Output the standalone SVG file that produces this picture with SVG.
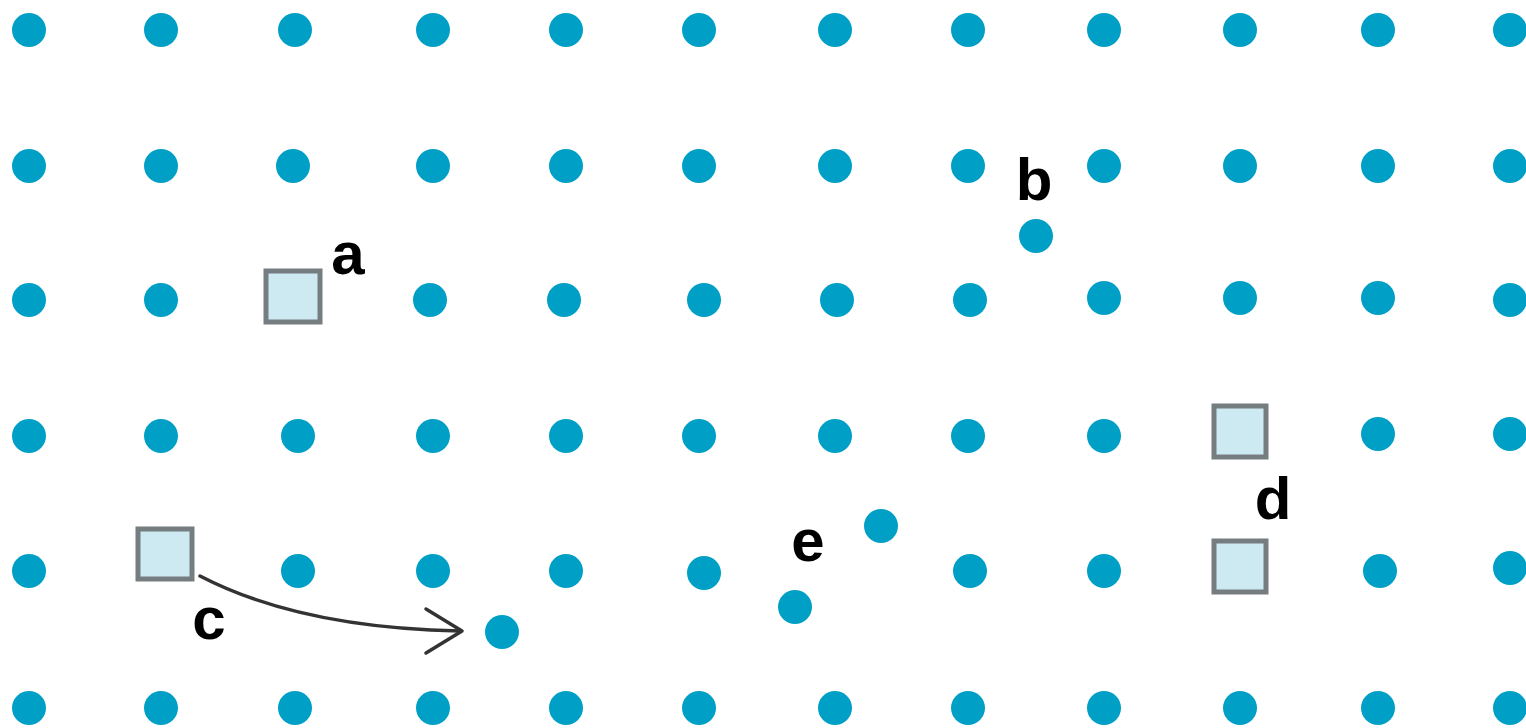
<svg xmlns="http://www.w3.org/2000/svg" width="1526" height="728" viewBox="0 0 1526 728">
<style>
.dot{fill:#00a0c6}
.sq{fill:#cdeaf2;stroke:#767d80;stroke-width:5}
.lbl{font-family:"Liberation Sans",Arial,sans-serif;font-weight:bold;font-size:60px;fill:#000;text-anchor:middle}
.conn{fill:none;stroke:#333;stroke-width:3.5;stroke-linecap:round;stroke-linejoin:round}
</style>
<defs>
<circle id="d" r="17" class="dot"/>
</defs>
<rect width="1526" height="728" fill="#fff"/>
<g id="grid">
<use href="#d" x="29" y="30"/><use href="#d" x="161" y="30"/><use href="#d" x="295" y="30"/><use href="#d" x="433" y="30"/><use href="#d" x="566" y="30"/><use href="#d" x="699" y="30"/><use href="#d" x="835" y="30"/><use href="#d" x="968" y="30"/><use href="#d" x="1104" y="30"/><use href="#d" x="1240" y="30"/><use href="#d" x="1378" y="30"/><use href="#d" x="1510" y="30"/>
<use href="#d" x="29" y="166"/><use href="#d" x="161" y="166"/><use href="#d" x="293" y="166"/><use href="#d" x="433" y="166"/><use href="#d" x="566" y="166"/><use href="#d" x="699" y="166"/><use href="#d" x="835" y="166"/><use href="#d" x="968" y="166"/><use href="#d" x="1104" y="166"/><use href="#d" x="1240" y="166"/><use href="#d" x="1378" y="166"/><use href="#d" x="1510" y="166"/>
<use href="#d" x="29" y="300"/><use href="#d" x="161" y="300"/><use href="#d" x="430" y="300"/><use href="#d" x="564" y="300"/><use href="#d" x="704" y="300"/><use href="#d" x="837" y="300"/><use href="#d" x="970" y="300"/><use href="#d" x="1104" y="298"/><use href="#d" x="1240" y="298"/><use href="#d" x="1378" y="298"/><use href="#d" x="1510" y="300"/>
<use href="#d" x="29" y="436"/><use href="#d" x="161" y="436"/><use href="#d" x="298" y="436"/><use href="#d" x="433" y="436"/><use href="#d" x="566" y="436"/><use href="#d" x="699" y="436"/><use href="#d" x="835" y="436"/><use href="#d" x="968" y="436"/><use href="#d" x="1104" y="436"/><use href="#d" x="1378" y="434"/><use href="#d" x="1510" y="434"/>
<use href="#d" x="29" y="571"/><use href="#d" x="298" y="571"/><use href="#d" x="433" y="571"/><use href="#d" x="566" y="571"/><use href="#d" x="704" y="573"/><use href="#d" x="970" y="571"/><use href="#d" x="1104" y="571"/><use href="#d" x="1380" y="571"/><use href="#d" x="1510" y="568"/>
<use href="#d" x="29" y="708"/><use href="#d" x="161" y="708"/><use href="#d" x="295" y="708"/><use href="#d" x="433" y="708"/><use href="#d" x="566" y="708"/><use href="#d" x="699" y="708"/><use href="#d" x="835" y="708"/><use href="#d" x="968" y="708"/><use href="#d" x="1104" y="708"/><use href="#d" x="1240" y="708"/><use href="#d" x="1378" y="708"/><use href="#d" x="1510" y="708"/>
</g>
<g id="connectors">
<path class="conn" d="M200,576 Q300,628 460,631"/>
<path class="conn" d="M426,609 L462,631 L426,653"/>
</g>
<g id="node-a">
<rect class="sq" x="266" y="271" width="54" height="51"/>
<text class="lbl" x="348" y="274">a</text>
</g>
<g id="node-b">
<use href="#d" x="1036" y="236"/>
<text class="lbl" x="1034" y="200">b</text>
</g>
<g id="node-c">
<rect class="sq" x="138" y="529" width="54" height="50"/>
<text class="lbl" x="209" y="639">c</text>
</g>
<g id="node-c-target">
<use href="#d" x="502" y="632"/>
</g>
<g id="node-d">
<rect class="sq" x="1214" y="406" width="52" height="51"/>
<rect class="sq" x="1214" y="541" width="52" height="51"/>
<text class="lbl" x="1273" y="519">d</text>
</g>
<g id="node-e">
<use href="#d" x="881" y="526"/>
<use href="#d" x="795" y="607"/>
<text class="lbl" x="808" y="561">e</text>
</g>
</svg>
